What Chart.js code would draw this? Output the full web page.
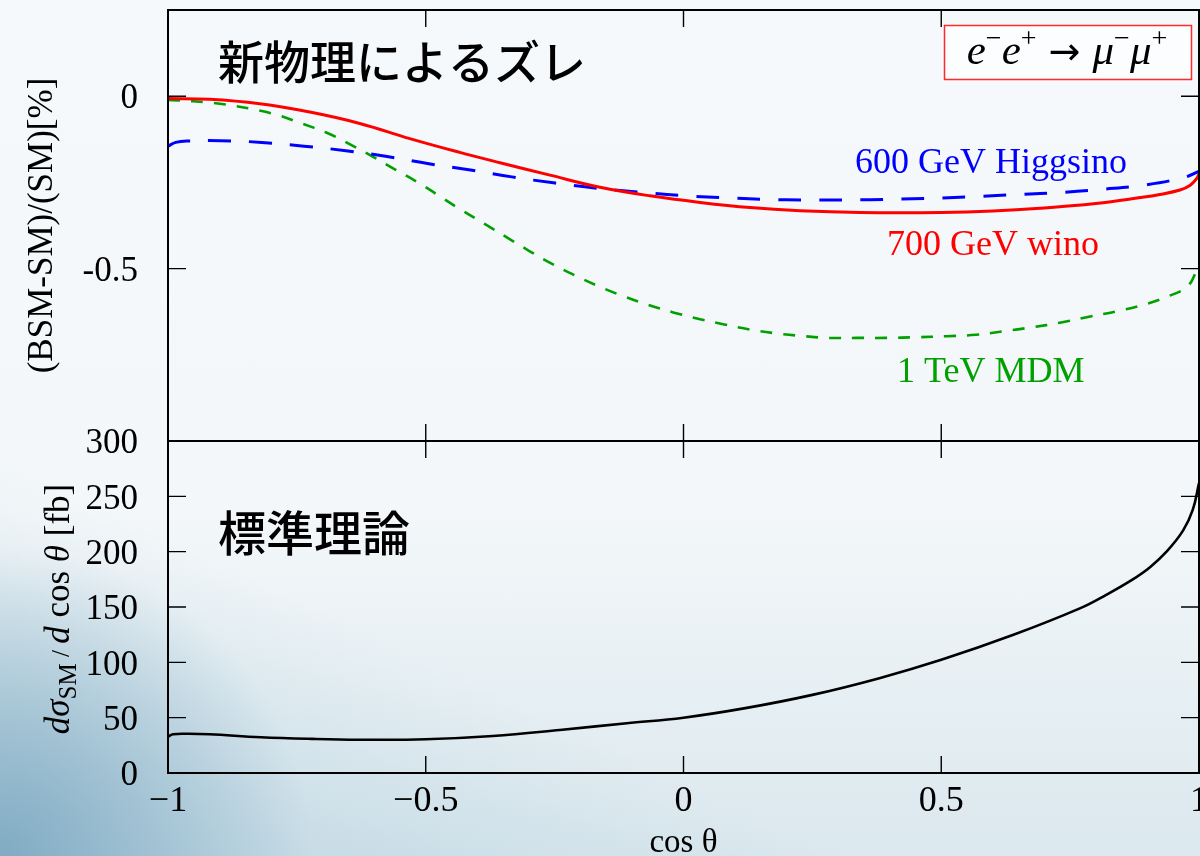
<!DOCTYPE html>
<html lang="ja">
<head>
<meta charset="UTF-8">
<title>e-e+ → μ-μ+ : 新物理によるズレ / 標準理論</title>
<script src="https://cdn.jsdelivr.net/npm/chart.js@4"></script>
<style>
  html, body { margin: 0; padding: 0; }
  body {
    width: 1200px; height: 856px; overflow: hidden; position: relative;
    background:
      radial-gradient(ellipse 26% 36% at 0% 100%, rgba(118,164,190,0.85), rgba(118,164,190,0) 100%),
      linear-gradient(25deg, rgba(150,190,210,0.45) 0%, rgba(150,190,210,0) 28%),
      linear-gradient(#f6f9fb, #f3f7f9 60%, #dbe8ee);
  }
  canvas { position: absolute; left: 0; }
  #shift { top: 0; }
  #xsec { top: 420px; }
</style>
</head>
<body>
<canvas id="shift" width="1200" height="442"></canvas>
<canvas id="xsec" width="1200" height="436"></canvas>
<script>
// curves (cos theta, deviation in %)
const cosWino = [-1, -0.919, -0.822, -0.725, -0.628, -0.531, -0.434, -0.356, -0.259, -0.162, -0.065, 0.032, 0.129, 0.226, 0.342, 0.5, 0.6, 0.692, 0.8, 0.886, 0.924, 0.963, 0.983, 0.996, 1];
const winoShift = [-0.007, -0.009, -0.022, -0.046, -0.079, -0.123, -0.163, -0.193, -0.229, -0.264, -0.289, -0.308, -0.323, -0.332, -0.337, -0.337, -0.333, -0.325, -0.311, -0.294, -0.285, -0.272, -0.258, -0.238, -0.225];

const cosHiggsino = [-1, -0.985, -0.96, -0.899, -0.818, -0.736, -0.655, -0.575, -0.494, -0.413, -0.333, -0.249, -0.168, -0.088, -0.005, 0.075, 0.158, 0.240, 0.321, 0.404, 0.485, 0.565, 0.650, 0.734, 0.813, 0.893, 0.970, 1];
const higgsinoShift = [-0.145, -0.134, -0.130, -0.129, -0.134, -0.145, -0.158, -0.175, -0.196, -0.214, -0.234, -0.252, -0.267, -0.278, -0.288, -0.294, -0.299, -0.301, -0.301, -0.299, -0.296, -0.291, -0.285, -0.279, -0.270, -0.258, -0.236, -0.218];

const cosMdm = [-1, -0.979, -0.924, -0.888, -0.838, -0.789, -0.741, -0.692, -0.644, -0.602, -0.560, -0.514, -0.472, -0.429, -0.385, -0.342, -0.299, -0.254, -0.210, -0.165, -0.117, -0.069, -0.020, 0.030, 0.079, 0.130, 0.181, 0.234, 0.281, 0.336, 0.394, 0.452, 0.510, 0.567, 0.620, 0.677, 0.730, 0.782, 0.840, 0.892, 0.939, 0.978, 0.996, 1];
const mdmShift = [-0.011, -0.012, -0.018, -0.024, -0.037, -0.054, -0.079, -0.106, -0.142, -0.176, -0.212, -0.251, -0.291, -0.332, -0.371, -0.410, -0.449, -0.487, -0.520, -0.551, -0.580, -0.605, -0.627, -0.646, -0.662, -0.677, -0.688, -0.696, -0.701, -0.701, -0.701, -0.699, -0.696, -0.692, -0.682, -0.670, -0.657, -0.641, -0.624, -0.605, -0.581, -0.551, -0.503, -0.488];

// SM differential cross section [fb]
const cosSM = [-1, -0.99, -0.96, -0.92, -0.82, -0.72, -0.63, -0.5, -0.37, -0.24, -0.11, 0, 0.12, 0.25, 0.38, 0.5, 0.64, 0.77, 0.82, 0.87, 0.905, 0.937, 0.969, 0.988, 1];
const smXsec = [32.9, 35.0, 35.4, 35.0, 32.3, 30.8, 30.1, 30.5, 33.5, 38.9, 45.0, 50.0, 58.6, 70.6, 85.7, 102.3, 124.9, 149.0, 161.0, 174.5, 186.0, 200.0, 219.0, 238.0, 262.0];

const xTicks = [-1, -0.5, 0, 0.5, 1];
const xTickLabels = ['\u22121', '\u22120.5', '0', '0.5', '1'];
const shiftTicks = [-1, -0.5, 0];
const shiftTickLabels = ['', '-0.5', '0'];
const xsecTicks = [0, 50, 100, 150, 200, 250, 300];
const xsecTickLabels = ['0', '50', '100', '150', '200', '250', '300'];

const SERIF = '"Liberation Serif", "DejaVu Serif", serif';
const CJK = '"Noto Sans CJK JP", "Noto Sans CJK SC", sans-serif';

function pts(xs, ys) {
  return xs.map((x, i) => ({ x: x, y: ys[i] }));
}

// text made of pieces in different fonts (italic math, sub/superscripts)
function drawRuns(ctx, runs, x, y) {
  let w = 0;
  for (const r of runs) { ctx.font = r.f; w += ctx.measureText(r.t).width; }
  let cx = x - w / 2;
  ctx.textAlign = 'left';
  ctx.textBaseline = 'alphabetic';
  for (const r of runs) {
    ctx.font = r.f;
    ctx.fillText(r.t, cx, y + (r.dy || 0));
    cx += ctx.measureText(r.t).width;
  }
}

// frame with inward ticks on all four sides, plus panel texts
function framePlugin(yTicks, extra) {
  return {
    id: 'frame',
    afterDatasetsDraw(chart) {
      const { ctx, chartArea: a, scales: { x, y } } = chart;
      ctx.save();
      ctx.strokeStyle = '#000';
      ctx.lineWidth = 2;
      ctx.strokeRect(a.left, a.top, a.right - a.left, a.bottom - a.top);
      ctx.lineWidth = 1.4;
      ctx.beginPath();
      for (const v of yTicks) {
        const py = y.getPixelForValue(v);
        ctx.moveTo(a.left, py); ctx.lineTo(a.left + 18, py);
        ctx.moveTo(a.right, py); ctx.lineTo(a.right - 18, py);
      }
      for (const v of xTicks) {
        const px = x.getPixelForValue(v);
        ctx.moveTo(px, a.top); ctx.lineTo(px, a.top + 17);
        ctx.moveTo(px, a.bottom); ctx.lineTo(px, a.bottom - 17);
      }
      ctx.stroke();
      extra(ctx, chart);
      ctx.restore();
    }
  };
}

const fixY = s => { s.width = 168; s.paddingTop = 0; s.paddingBottom = 0; };
const fixX = s => { s.height = 83; s.paddingLeft = 0; s.paddingRight = 0; };

new Chart(document.getElementById('shift'), {
  type: 'line',
  data: {
    datasets: [
      { label: '700 GeV wino', data: pts(cosWino, winoShift), borderColor: '#ff0000', borderWidth: 3 },
      { label: '600 GeV Higgsino', data: pts(cosHiggsino, higgsinoShift), borderColor: '#0000ff', borderWidth: 3, borderDash: [23, 18] },
      { label: '1 TeV MDM', data: pts(cosMdm, mdmShift), borderColor: '#00a000', borderWidth: 2.6, borderDash: [12, 11] }
    ]
  },
  options: {
    responsive: false,
    animation: false,
    layout: { padding: { top: 10, right: 1, bottom: 1, left: 0 } },
    elements: { point: { radius: 0 }, line: { tension: 0.4, fill: false } },
    plugins: { legend: { display: false }, tooltip: { enabled: false } },
    scales: {
      x: { type: 'linear', min: -1, max: 1, display: false },
      y: {
        type: 'linear', min: -1, max: 0.25,
        afterBuildTicks: s => { s.ticks = shiftTicks.map(v => ({ value: v })); },
        afterFit: fixY,
        grid: { display: false, drawTicks: false },
        border: { display: false },
        ticks: { padding: 30, labelOffset: 3, autoSkip: false, color: '#000', font: { family: SERIF, size: 35 },
                 callback: (v, i) => shiftTickLabels[i] },
        title: { display: true, text: '(BSM-SM)/(SM)[%]', color: '#000',
                 font: { family: SERIF, size: 35, lineHeight: 1 }, padding: { top: 25, bottom: 0 } }
      }
    }
  },
  plugins: [framePlugin(shiftTicks, ctx => {
    ctx.fillStyle = '#000';
    ctx.font = '500 46px ' + CJK;
    ctx.textAlign = 'left';
    ctx.textBaseline = 'alphabetic';
    ctx.fillText('新物理によるズレ', 218, 79);

    ctx.font = '36px ' + SERIF;
    ctx.fillStyle = '#0000ff';
    ctx.fillText('600 GeV Higgsino', 855, 173);
    ctx.fillStyle = '#ff0000';
    ctx.fillText('700 GeV wino', 887, 255);
    ctx.fillStyle = '#00a000';
    ctx.fillText('1 TeV MDM', 897, 382);

    ctx.fillStyle = '#fcfdfe';
    ctx.fillRect(944.5, 25.5, 247, 54);
    ctx.strokeStyle = '#ff2a2a';
    ctx.lineWidth = 1.5;
    ctx.strokeRect(944.5, 25.5, 247, 54);
    ctx.fillStyle = '#000';
    const it = 'italic 43px ' + SERIF, sup = '28px ' + SERIF, arrow = '38px "DejaVu Sans", sans-serif';
    drawRuns(ctx, [
      { t: 'e', f: it }, { t: '\u2212', f: sup, dy: -17 }, { t: 'e', f: it }, { t: '+', f: sup, dy: -17 },
      { t: ' \u2192 ', f: arrow },
      { t: '\u03bc', f: it }, { t: '\u2212', f: sup, dy: -17 }, { t: '\u03bc', f: it }, { t: '+', f: sup, dy: -17 }
    ], 1067, 64);
  })]
});

new Chart(document.getElementById('xsec'), {
  type: 'line',
  data: {
    datasets: [
      { label: 'SM', data: pts(cosSM, smXsec), borderColor: '#000', borderWidth: 2.6 }
    ]
  },
  options: {
    responsive: false,
    animation: false,
    layout: { padding: { top: 21, right: 1, bottom: 0, left: 0 } },
    elements: { point: { radius: 0 }, line: { tension: 0.4, fill: false } },
    plugins: { legend: { display: false }, tooltip: { enabled: false } },
    scales: {
      x: {
        type: 'linear', min: -1, max: 1,
        afterBuildTicks: s => { s.ticks = xTicks.map(v => ({ value: v })); },
        afterFit: fixX,
        grid: { display: false, drawTicks: false },
        border: { display: false },
        ticks: { padding: 7, maxRotation: 0, autoSkip: false, color: '#000', font: { family: SERIF, size: 36 },
                 callback: (v, i) => xTickLabels[i] },
        title: { display: true, text: 'cos θ', color: '#000',
                 font: { family: SERIF, size: 33, lineHeight: 0.75 }, padding: { top: 0, bottom: 0 } }
      },
      y: {
        type: 'linear', min: 0, max: 300,
        afterBuildTicks: s => { s.ticks = xsecTicks.map(v => ({ value: v })); },
        afterFit: fixY,
        grid: { display: false, drawTicks: false },
        border: { display: false },
        ticks: { padding: 30, labelOffset: 3, autoSkip: false, color: '#000', font: { family: SERIF, size: 35 },
                 callback: (v, i) => xsecTickLabels[i] }
      }
    }
  },
  plugins: [framePlugin(xsecTicks, ctx => {
    ctx.fillStyle = '#000';
    ctx.font = '500 48px ' + CJK;
    ctx.textAlign = 'left';
    ctx.textBaseline = 'alphabetic';
    ctx.fillText('標準理論', 218, 131);

    // rotated y title with subscript
    const it = 'italic 35px ' + SERIF, rm = '35px ' + SERIF, sub = '25px ' + SERIF;
    ctx.save();
    ctx.translate(69, 189);
    ctx.rotate(-Math.PI / 2);
    drawRuns(ctx, [
      { t: 'd\u03c3', f: it }, { t: 'SM', f: sub, dy: 7 }, { t: ' / ', f: sub },
      { t: 'd', f: it }, { t: ' cos ', f: rm }, { t: '\u03b8', f: it }, { t: ' [fb]', f: rm }
    ], 0, 0);
    ctx.restore();
  })]
});
</script>
</body>
</html>
